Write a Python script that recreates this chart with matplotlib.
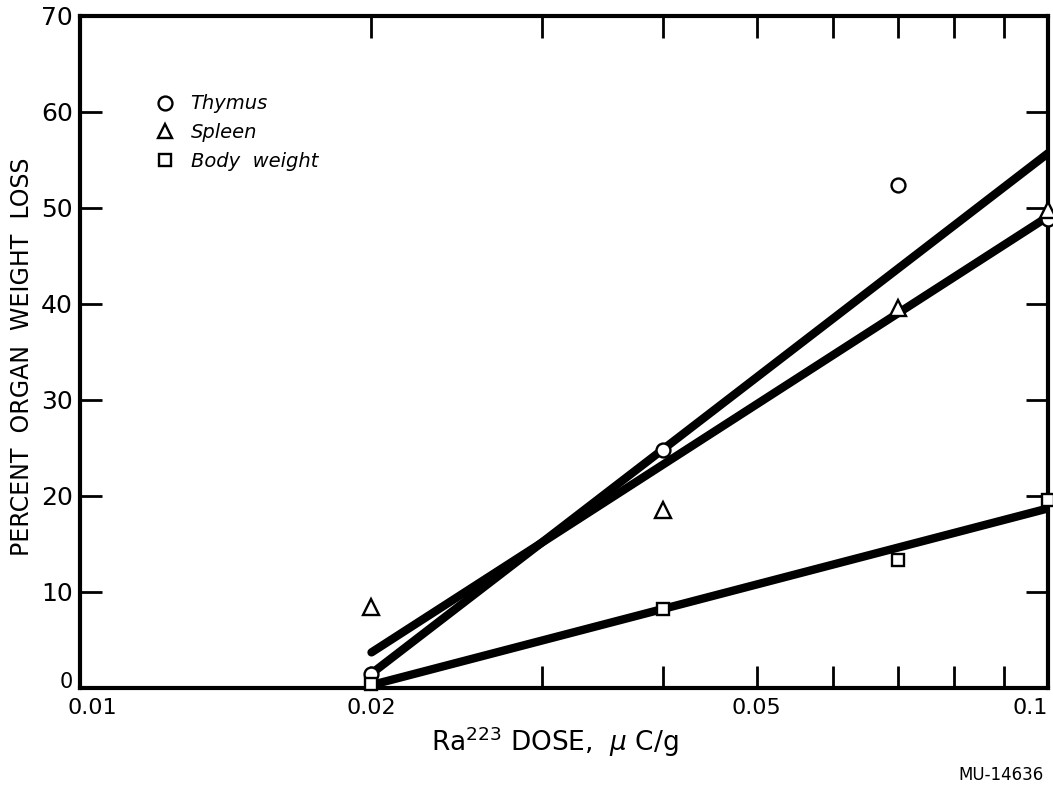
import matplotlib
matplotlib.use("Agg")
import matplotlib.pyplot as plt
import matplotlib.transforms as mtransforms
from matplotlib.lines import Line2D
import numpy as np

# dose in uC/g and percent weight loss
dose = [0.02, 0.04, 0.07, 0.1]
thymus = [1.5, 24.8, 52.4, 48.8]
spleen = [8.4, 18.5, 39.6, 49.8]
body = [0.4, 8.2, 13.3, 19.6]

# hand-drawn fit lines (end points at 0.02 and 0.1)
fit_x = [0.02, 0.1]
fit_thymus = [1.5, 55.7]
fit_spleen = [3.7, 49.1]
fit_body = [0.3, 18.7]

plt.rcParams['font.family'] = ['DejaVu Sans']

fig = plt.figure(figsize=(10.53, 7.88), dpi=100)
ax = fig.add_axes([0.076, 0.127, 0.9195, 0.853])

for y in (fit_thymus, fit_spleen, fit_body):
    ax.plot(fit_x, y, color='black', lw=6, solid_capstyle='round', zorder=2)

mk = dict(ls='none', mfc='white', mec='black', mew=1.7, clip_on=False, zorder=5)
ax.plot(dose, thymus, marker='o', ms=10, **mk)
ax.plot(dose, spleen, marker='^', ms=11, **mk)
ax.plot(dose, body, marker='s', ms=9, **mk)

ax.set_xscale('log')
ax.set_xlim(0.01, 0.1)
ax.set_ylim(0, 70)

ax.set_xticks([0.01, 0.02, 0.05, 0.1])
ax.set_xticklabels(['0.01', '0.02', '0.05', '0.1'])
ax.set_xticks([0.03, 0.04, 0.06, 0.07, 0.08, 0.09], minor=True)
ax.xaxis.set_minor_formatter(plt.NullFormatter())
ax.set_yticks(np.arange(0, 71, 10))

ax.tick_params(which='both', direction='in', length=16, width=2,
               top=True, right=True)
ax.tick_params(axis='y', labelsize=18, pad=5)
ax.tick_params(axis='x', labelsize=16, pad=7)
for s in ax.spines.values():
    s.set_linewidth(3)

# label tweaks as lettered on the original
xlabs = ax.get_xticklabels()
xlabs[0].set_transform(xlabs[0].get_transform() +
                       mtransforms.ScaledTranslation(0.12, 0, fig.dpi_scale_trans))
xlabs[-1].set_horizontalalignment('right')
ylabs = ax.get_yticklabels()
ylabs[0].set_fontsize(15)
ylabs[0].set_verticalalignment('baseline')

ax.set_xlabel('Ra$^{223}$ DOSE,  $\\mu$ C/g', fontsize=19)
ax.xaxis.set_label_coords(0.49, -0.055)
ax.set_ylabel('PERCENT  ORGAN  WEIGHT  LOSS', fontsize=17)
ax.yaxis.set_label_coords(-0.048, 0.4926)

handles = [
    Line2D([], [], marker='o', ls='none', mfc='white', mec='black', mew=1.7, ms=10),
    Line2D([], [], marker='^', ls='none', mfc='white', mec='black', mew=1.7, ms=10),
    Line2D([], [], marker='s', ls='none', mfc='white', mec='black', mew=1.7, ms=9),
]
leg = ax.legend(handles, ['Thymus', 'Spleen', 'Body  weight'], loc='upper left',
                bbox_to_anchor=(0.06, 0.909), frameon=False,
                prop={'style': 'italic', 'size': 14}, handlelength=1,
                handletextpad=0.8, labelspacing=0.5)

fig.text(0.991, 0.0165, 'MU-14636', ha='right', va='center', fontsize=12)

fig.savefig('out.png', dpi=100)
